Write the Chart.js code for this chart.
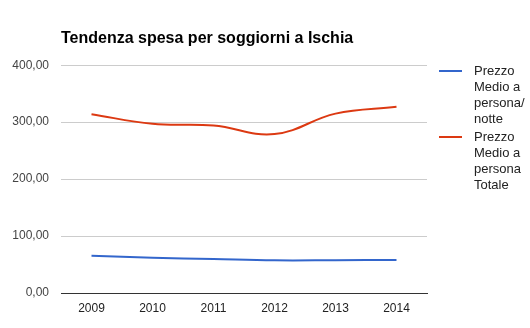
<!DOCTYPE html>
<html>
<head>
<meta charset="utf-8">
<script src="https://cdn.jsdelivr.net/npm/chart.js@4/dist/chart.umd.min.js"></script>
<style>
  body { margin: 0; background: #fff; }
</style>
</head>
<body>
<canvas id="chartCanvas" width="530" height="328"></canvas>
<script>
// dati
const anni = ['2009', '2010', '2011', '2012', '2013', '2014'];
const prezzoNotte = [65.5, 62, 59.6, 57.3, 57.5, 58];
const prezzoTotale = [314, 297, 294, 279, 315, 327];
const nomiSerie = ['Prezzo Medio a persona/notte', 'Prezzo Medio a persona Totale'];
const righeLegenda = [['Prezzo', 'Medio a', 'persona/', 'notte'], ['Prezzo', 'Medio a', 'persona', 'Totale']];
const coloriSerie = ['#3366cc', '#dc3912'];

// legenda a destra con testo su piu' righe
const legendaDestra = {
    id: 'legendaDestra',
    afterDraw(chart) {
        const ctx = chart.ctx;
        ctx.save();
        ctx.font = '13px Arial, "Liberation Sans", sans-serif';
        ctx.textBaseline = 'middle';
        let y = 71;
        chart.data.datasets.forEach((ds, i) => {
            ctx.strokeStyle = ds.borderColor;
            ctx.lineWidth = 2;
            ctx.beginPath();
            ctx.moveTo(439, y);
            ctx.lineTo(462, y);
            ctx.stroke();
            ctx.fillStyle = '#222';
            righeLegenda[i].forEach((riga, j) => {
                ctx.fillText(riga, 474, y + j * 16);
            });
            y += righeLegenda[i].length * 16 + 2;
        });
        ctx.restore();
    }
};

const ctx = document.getElementById('chartCanvas').getContext('2d');
const chart = new Chart(ctx, {
    type: 'line',
    data: {
        labels: anni,
        datasets: [{
            label: nomiSerie[0],
            data: prezzoNotte,
            borderColor: coloriSerie[0],
            backgroundColor: coloriSerie[0],
            borderWidth: 2,
            pointRadius: 0,
            tension: 0.4
        }, {
            label: nomiSerie[1],
            data: prezzoTotale,
            borderColor: coloriSerie[1],
            backgroundColor: coloriSerie[1],
            borderWidth: 2,
            pointRadius: 0,
            tension: 0.4
        }]
    },
    options: {
        responsive: false,
        animation: false,
        layout: {
            padding: { left: 0, right: 103, top: 0, bottom: 0 }
        },
        plugins: {
            legend: { display: false },
            tooltip: { enabled: false },
            title: {
                display: true,
                text: 'Tendenza spesa per soggiorni a Ischia',
                align: 'start',
                fullSize: false,
                color: '#000',
                font: { family: 'Arial, "Liberation Sans", sans-serif', size: 16, weight: 'bold' },
                padding: { top: 29, bottom: 17 }
            }
        },
        scales: {
            x: {
                offset: true,
                grid: { display: false, drawTicks: false },
                border: { display: true, color: '#333', width: 1 },
                ticks: {
                    color: '#222',
                    padding: 8,
                    font: { family: 'Arial, "Liberation Sans", sans-serif', size: 12 }
                },
                afterFit(scale) { scale.height = 35; }
            },
            y: {
                min: 0,
                max: 400,
                grid: {
                    color: c => c.tick && c.tick.value === 0 ? '#333' : '#ccc',
                    drawTicks: false
                },
                border: { display: false },
                ticks: {
                    stepSize: 100,
                    color: '#444',
                    padding: 12,
                    font: { family: 'Arial, "Liberation Sans", sans-serif', size: 12 },
                    callback: v => v.toFixed(2).replace('.', ',')
                },
                afterFit(scale) { scale.width = 61; }
            }
        }
    },
    plugins: [legendaDestra]
});
</script>
</body>
</html>
